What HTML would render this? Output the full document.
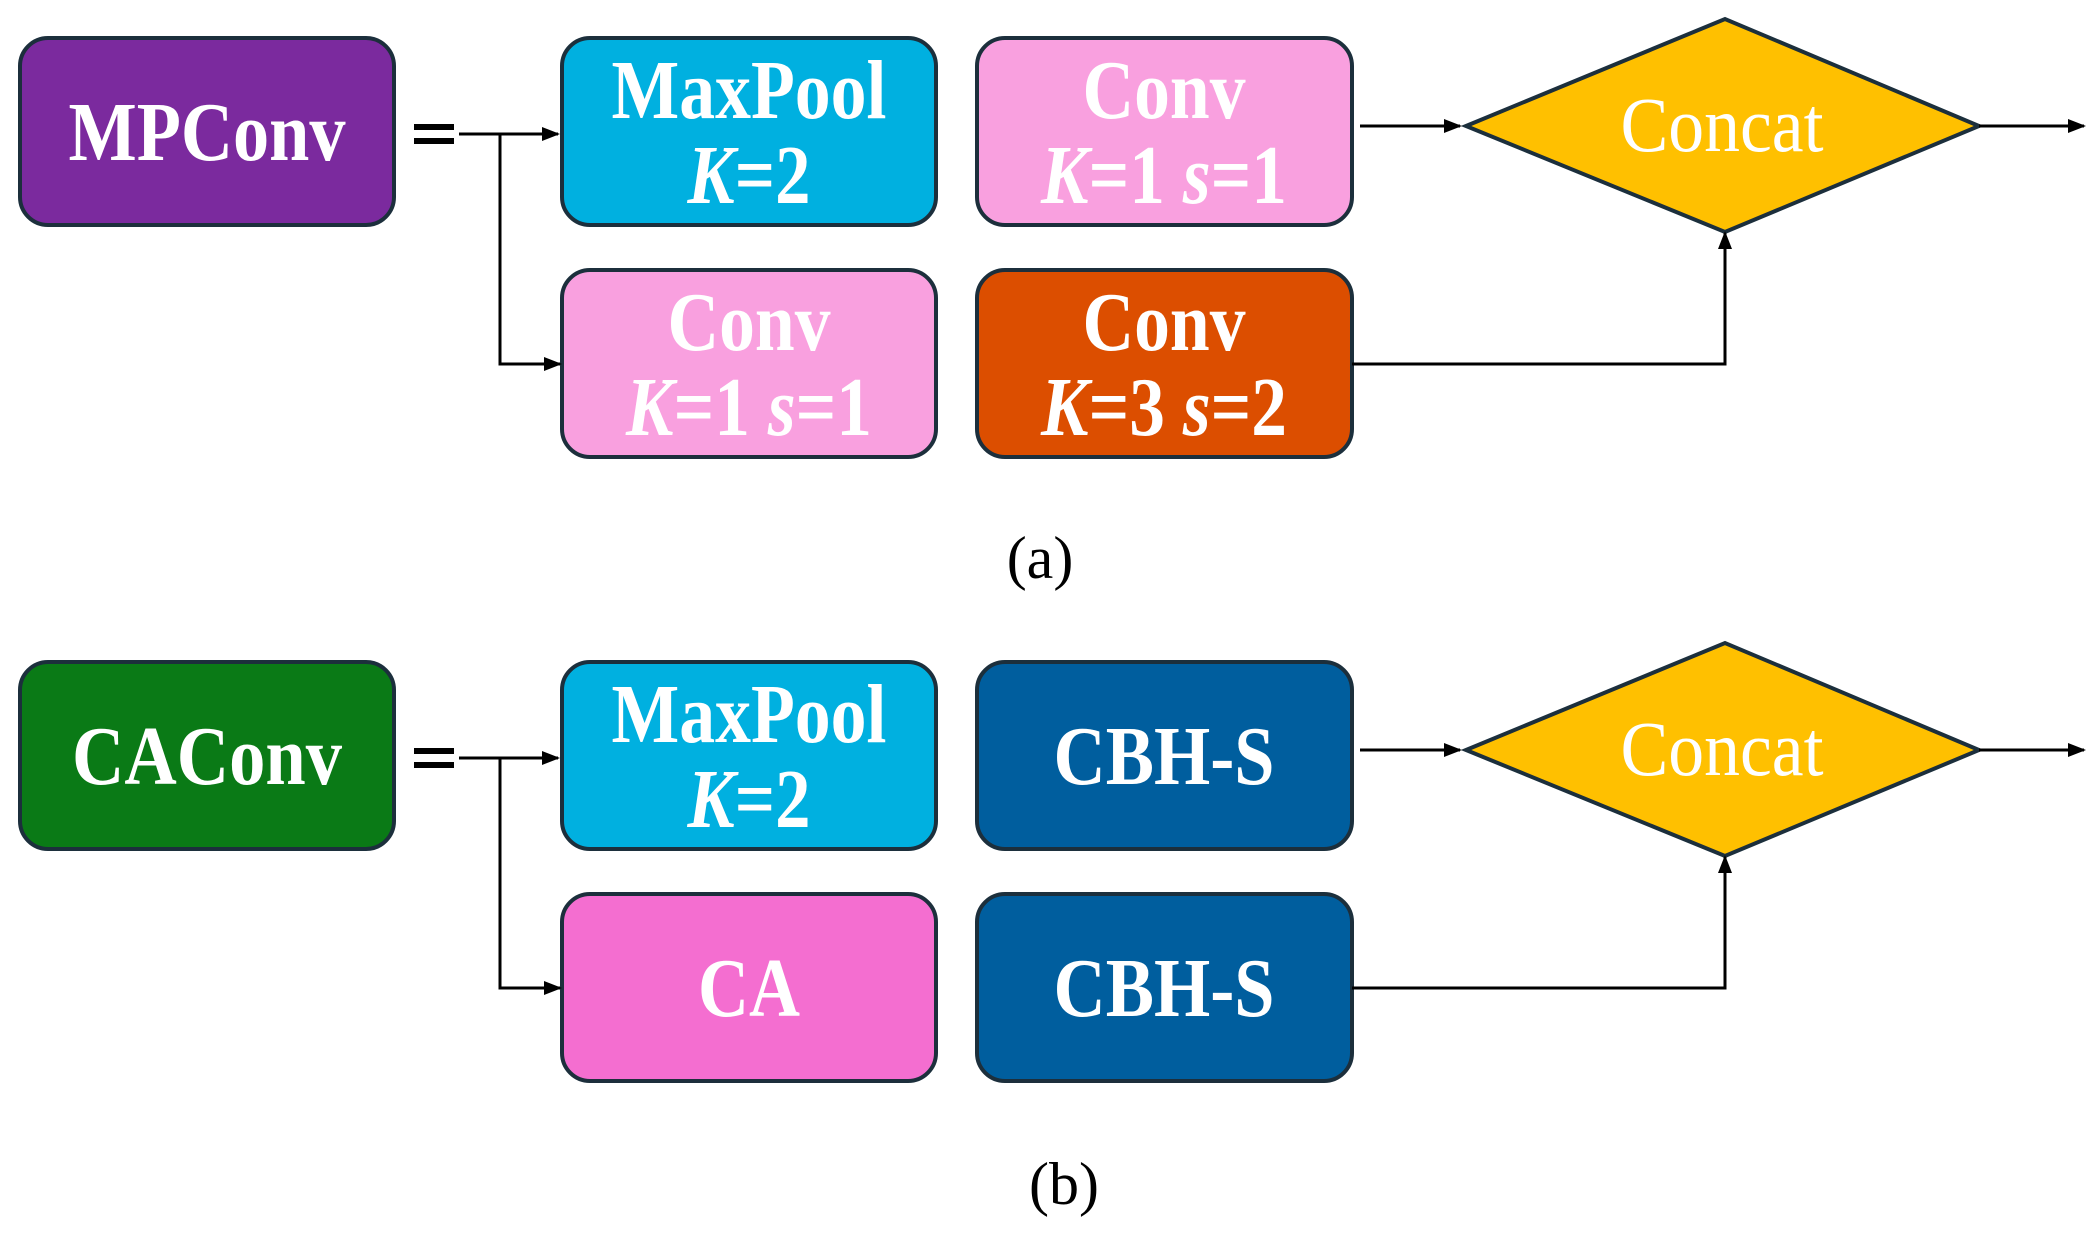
<!DOCTYPE html>
<html><head><meta charset="utf-8"><style>html,body{margin:0;padding:0;background:#fff}svg{display:block}</style></head>
<body>
<svg width="2097" height="1234" viewBox="0 0 2097 1234" xmlns="http://www.w3.org/2000/svg" font-family="Liberation Serif, serif">
<defs>
<marker id="ar" markerWidth="18" markerHeight="14" refX="16" refY="7" orient="auto" markerUnits="userSpaceOnUse"><path d="M0,0 L18,7 L0,14 Z" fill="#000"/></marker>
</defs>
<g id="a">
<g stroke="#1c2f3c" stroke-width="4">
<rect x="20" y="38" width="374" height="187" rx="28" fill="#7B2A9E"/>
<rect x="562" y="38" width="374" height="187" rx="28" fill="#00B0E0"/>
<rect x="977" y="38" width="375" height="187" rx="28" fill="#F9A0DF"/>
<rect x="562" y="270" width="374" height="187" rx="28" fill="#F9A0DF"/>
<rect x="977" y="270" width="375" height="187" rx="28" fill="#DC4E00"/>
<polygon points="1466,126 1725,19 1979,126 1725,232" fill="#FFC000"/>
</g>
<g fill="none" stroke="#000" stroke-width="3">
<path d="M414,127 H454 M414,141 H454" stroke-width="6"/>
<path d="M459,134 H558" marker-end="url(#ar)"/>
<path d="M500,134 V364 H560" marker-end="url(#ar)"/>
<path d="M1360,126 H1460" marker-end="url(#ar)"/>
<path d="M1979,126 H2084" marker-end="url(#ar)"/>
<path d="M1352,364 H1725 V233" marker-end="url(#ar)"/>
</g>
<g fill="#fff" font-weight="bold" font-size="84" text-anchor="middle">
<text x="207" y="160" textLength="277" lengthAdjust="spacingAndGlyphs">MPConv</text>
<text x="749" y="118" textLength="275" lengthAdjust="spacingAndGlyphs">MaxPool</text>
<text x="749" y="203" textLength="123" lengthAdjust="spacingAndGlyphs"><tspan font-style="italic">K</tspan>=2</text>
<text x="1164" y="118" textLength="163" lengthAdjust="spacingAndGlyphs">Conv</text>
<text x="1164" y="203" textLength="246" lengthAdjust="spacingAndGlyphs"><tspan font-style="italic">K</tspan>=1 <tspan font-style="italic">s</tspan>=1</text>
<text x="749" y="350" textLength="163" lengthAdjust="spacingAndGlyphs">Conv</text>
<text x="749" y="435" textLength="246" lengthAdjust="spacingAndGlyphs"><tspan font-style="italic">K</tspan>=1 <tspan font-style="italic">s</tspan>=1</text>
<text x="1164" y="350" textLength="163" lengthAdjust="spacingAndGlyphs">Conv</text>
<text x="1164" y="435" textLength="246" lengthAdjust="spacingAndGlyphs"><tspan font-style="italic">K</tspan>=3 <tspan font-style="italic">s</tspan>=2</text>
<text x="1722" y="151" font-weight="normal" font-size="78" textLength="203" lengthAdjust="spacingAndGlyphs">Concat</text>
</g>
<text x="1040" y="578" font-size="60" text-anchor="middle" fill="#000">(a)</text>
</g>
<g transform="translate(0,624)">
<g stroke="#1c2f3c" stroke-width="4">
<rect x="20" y="38" width="374" height="187" rx="28" fill="#0A7A16"/>
<rect x="562" y="38" width="374" height="187" rx="28" fill="#00B0E0"/>
<rect x="977" y="38" width="375" height="187" rx="28" fill="#005E9E"/>
<rect x="562" y="270" width="374" height="187" rx="28" fill="#F46ED0"/>
<rect x="977" y="270" width="375" height="187" rx="28" fill="#005E9E"/>
<polygon points="1466,126 1725,19 1979,126 1725,232" fill="#FFC000"/>
</g>
<g fill="none" stroke="#000" stroke-width="3">
<path d="M414,127 H454 M414,141 H454" stroke-width="6"/>
<path d="M459,134 H558" marker-end="url(#ar)"/>
<path d="M500,134 V364 H560" marker-end="url(#ar)"/>
<path d="M1360,126 H1460" marker-end="url(#ar)"/>
<path d="M1979,126 H2084" marker-end="url(#ar)"/>
<path d="M1352,364 H1725 V233" marker-end="url(#ar)"/>
</g>
<g fill="#fff" font-weight="bold" font-size="84" text-anchor="middle">
<text x="207" y="160" textLength="270" lengthAdjust="spacingAndGlyphs">CAConv</text>
<text x="749" y="118" textLength="275" lengthAdjust="spacingAndGlyphs">MaxPool</text>
<text x="749" y="203" textLength="123" lengthAdjust="spacingAndGlyphs"><tspan font-style="italic">K</tspan>=2</text>
<text x="1164" y="160" textLength="221" lengthAdjust="spacingAndGlyphs">CBH-S</text>
<text x="749" y="392" textLength="102" lengthAdjust="spacingAndGlyphs">CA</text>
<text x="1164" y="392" textLength="221" lengthAdjust="spacingAndGlyphs">CBH-S</text>
<text x="1722" y="151" font-weight="normal" font-size="78" textLength="203" lengthAdjust="spacingAndGlyphs">Concat</text>
</g>
<text x="1064" y="580" font-size="60" text-anchor="middle" fill="#000">(b)</text>
</g>
</svg>
</body></html>
